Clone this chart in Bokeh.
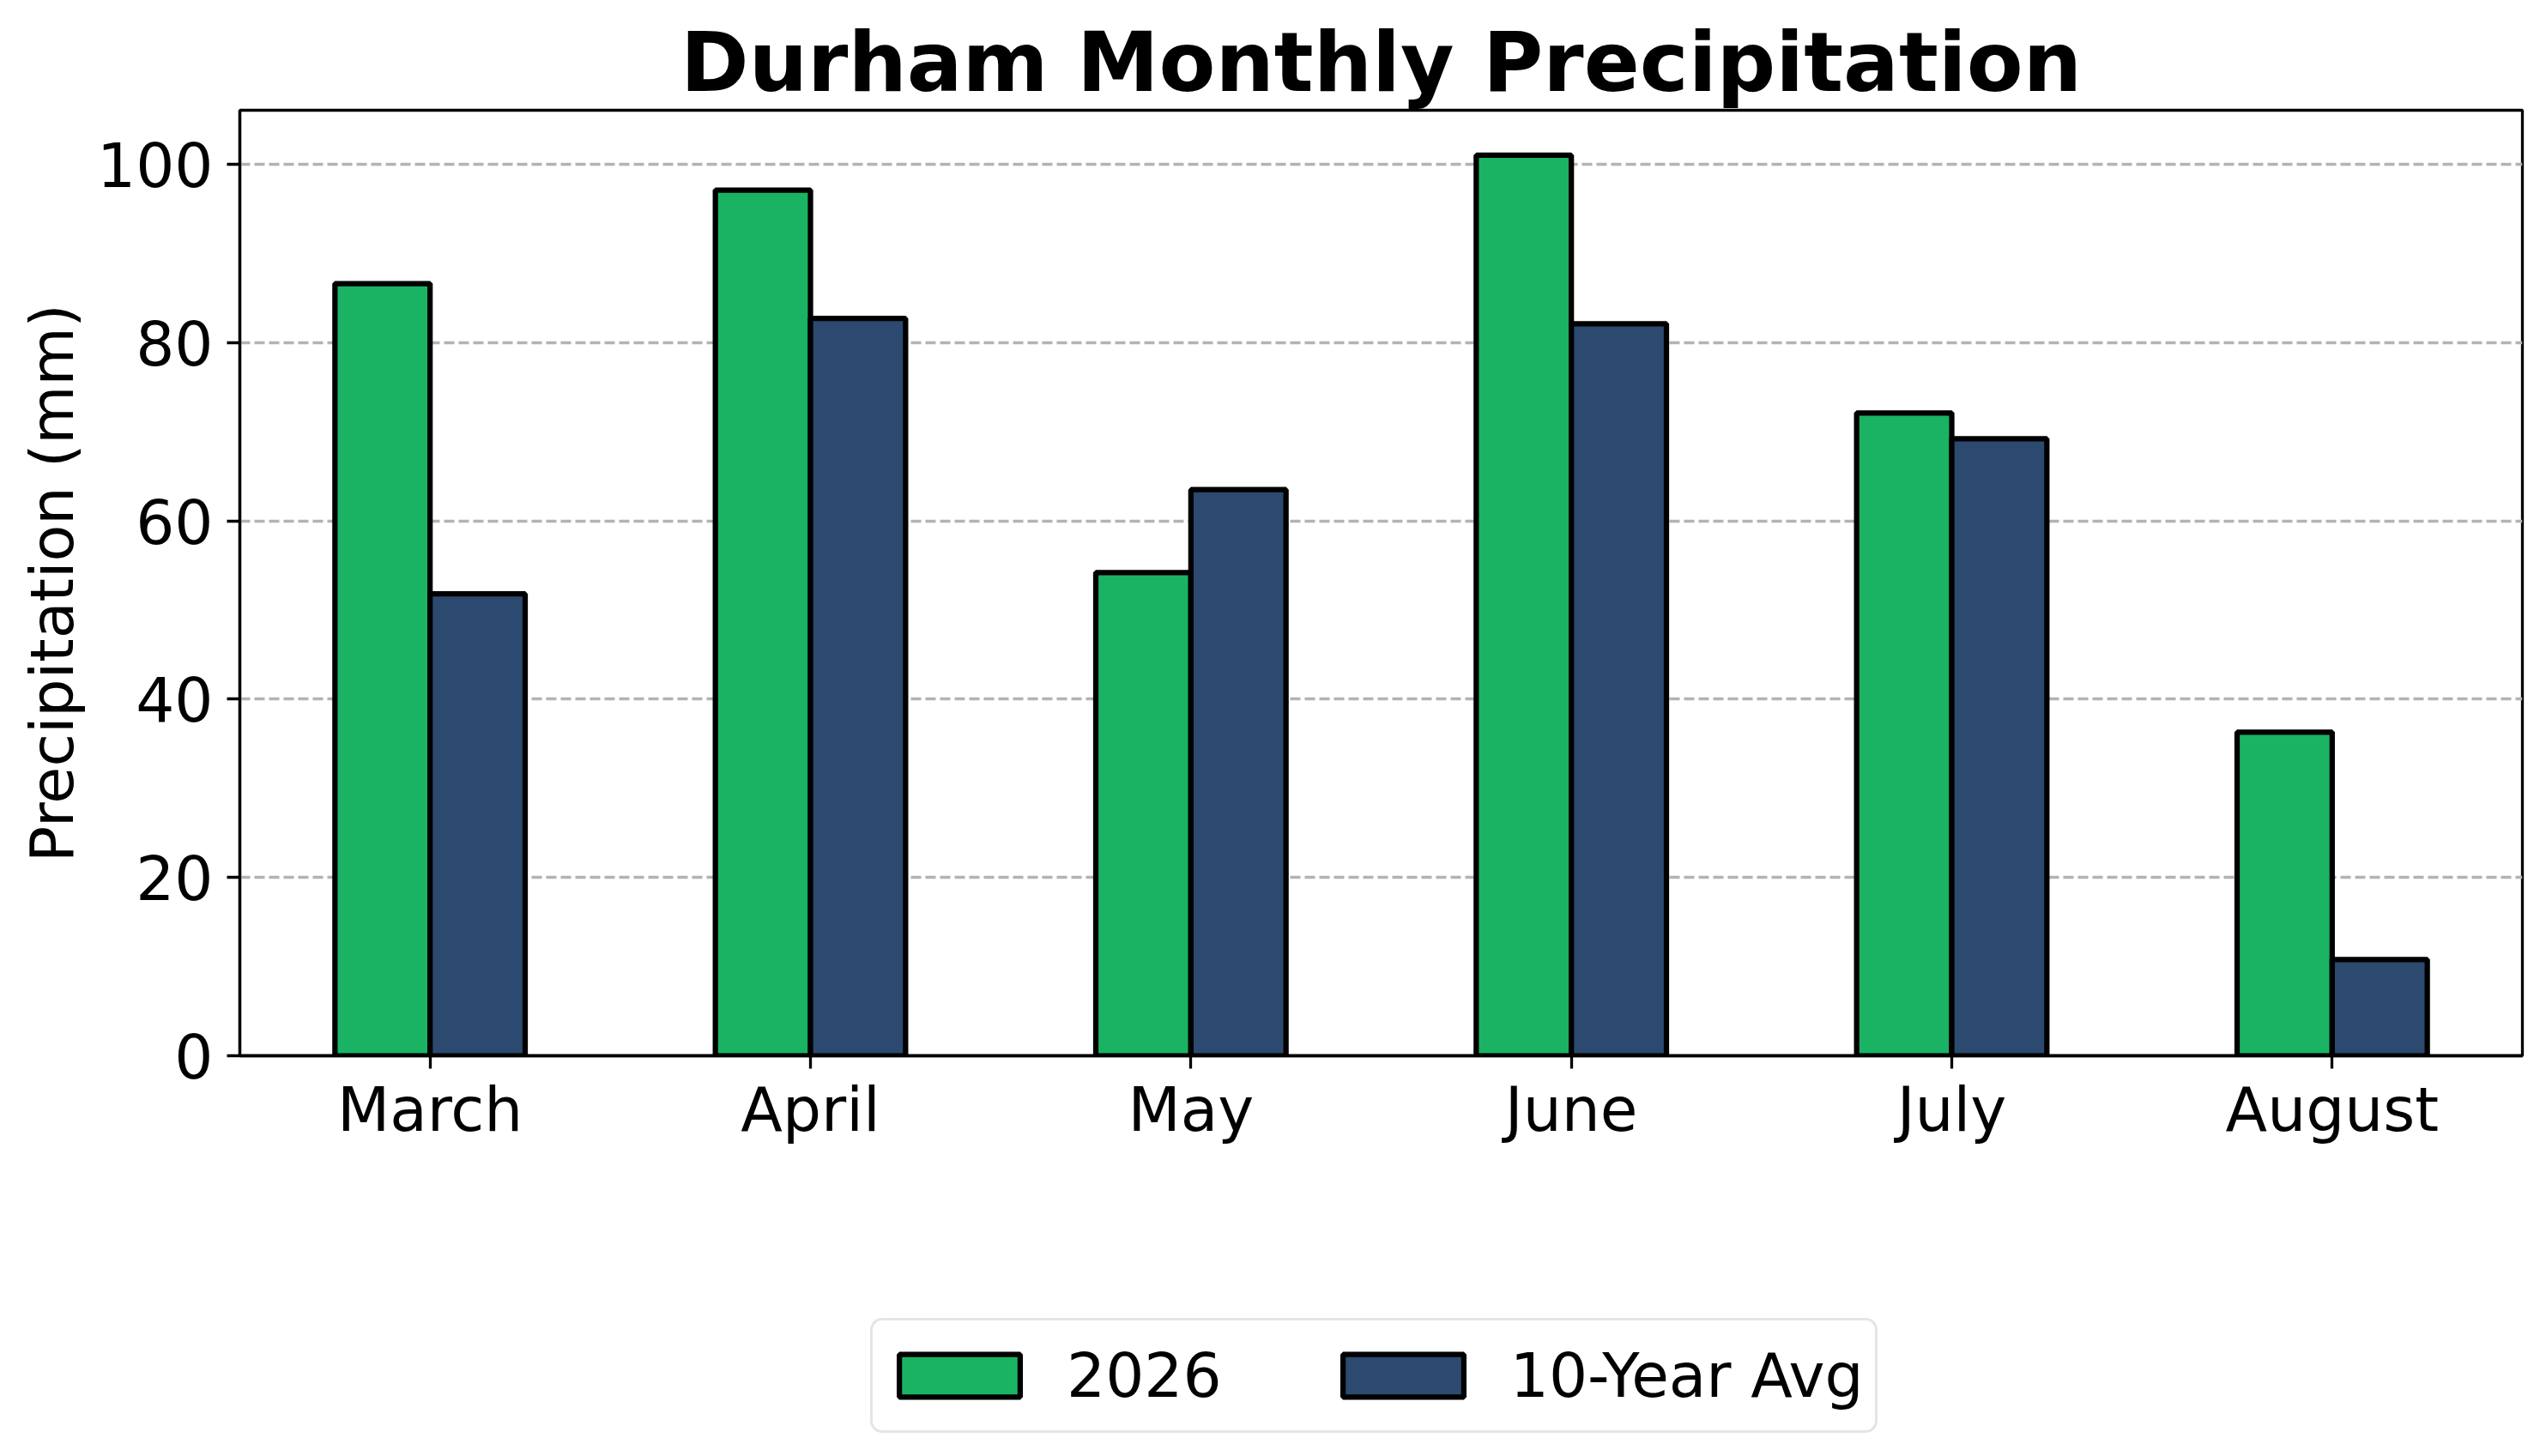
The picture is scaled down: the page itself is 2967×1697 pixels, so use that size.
from bokeh.plotting import figure
from bokeh.models import Range1d, FixedTicker, Legend, LegendItem
from bokeh.layouts import column
from bokeh.embed import file_html
from bokeh.resources import INLINE

months = ["March", "April", "May", "June", "July", "August"]
precip_2026 = [86.6, 97.1, 54.2, 101.0, 72.1, 36.3]
precip_avg10 = [51.8, 82.7, 63.5, 82.1, 69.2, 10.8]
series_labels = ["2026", "10-Year Avg"]
y_ticks = [0, 20, 40, 60, 80, 100]

GREEN = "#1AB364"
BLUE = "#2C4A6F"
FONT = "DejaVu Sans"
bar_w = 0.25

idx = list(range(len(months)))
x_green = [i - bar_w / 2 for i in idx]
x_blue = [i + bar_w / 2 for i in idx]
x_lim = (-0.5, len(months) - 0.5)
y_lim = (0, max(precip_2026 + precip_avg10) * 1.05)

p = figure(width=2951, height=1350, output_backend="svg", toolbar_location=None,
           x_range=Range1d(*x_lim), y_range=Range1d(*y_lim),
           min_border_left=279, min_border_right=12, min_border_top=128,
           min_border_bottom=120)

p.title.text = "Durham Monthly Precipitation"
p.title.text_font = FONT
p.title.text_font_size = "96px"
p.title.text_font_style = "bold"
p.title.align = "center"
p.title.standoff = 0
p.title.text_color = "black"

p.outline_line_color = "black"
p.outline_line_width = 3.3

p.xgrid.grid_line_color = None
p.ygrid.grid_line_color = "#b3b3b3"
p.ygrid.grid_line_width = 3.3
p.ygrid.grid_line_dash = "12 5"
p.ygrid.ticker = FixedTicker(ticks=y_ticks)

r1 = p.vbar(x=x_green, top=precip_2026, width=bar_w, bottom=0,
            fill_color=GREEN, line_color="black", line_width=6.25)
r2 = p.vbar(x=x_blue, top=precip_avg10, width=bar_w, bottom=0,
            fill_color=BLUE, line_color="black", line_width=6.25)

xa = p.xaxis[0]
xa.ticker = FixedTicker(ticks=idx)
xa.major_label_overrides = {i: m for i, m in zip(idx, months)}
xa.minor_tick_line_color = None
xa.major_tick_in = 0
xa.major_tick_out = 15
xa.major_tick_line_width = 3.3
xa.axis_line_width = 3.3
xa.major_label_text_font = FONT
xa.major_label_text_font_size = "71px"
xa.major_label_text_color = "black"
xa.major_label_standoff = 6

ya = p.yaxis[0]
ya.ticker = FixedTicker(ticks=y_ticks)
ya.minor_tick_line_color = None
ya.major_tick_in = 0
ya.major_tick_out = 15
ya.major_tick_line_width = 3.3
ya.axis_line_width = 3.3
ya.major_label_text_font = FONT
ya.major_label_text_font_size = "71px"
ya.major_label_text_color = "black"
ya.major_label_standoff = 16
ya.axis_label = "Precipitation (mm)"
ya.axis_label_text_font = FONT
ya.axis_label_text_font_size = "70px"
ya.axis_label_text_font_style = "normal"
ya.axis_label_text_color = "black"
ya.axis_label_standoff = 8

# Legend lives in a second, axis-less strip below the chart.
# Its legend renderers repeat the series styling but are hidden.
p2 = figure(width=2951, height=331, output_backend="svg", toolbar_location=None,
            x_range=Range1d(*x_lim), y_range=Range1d(*y_lim),
            x_axis_location=None, y_axis_location=None,
            min_border_left=0, min_border_right=0, min_border_top=0, min_border_bottom=0)
p2.outline_line_color = None
p2.xgrid.grid_line_color = None
p2.ygrid.grid_line_color = None
l1 = p2.vbar(x=x_green, top=precip_2026, width=bar_w, bottom=0,
             fill_color=GREEN, line_color="black", line_width=6.25, visible=False)
l2 = p2.vbar(x=x_blue, top=precip_avg10, width=bar_w, bottom=0,
             fill_color=BLUE, line_color="black", line_width=6.25, visible=False)

legend = Legend(items=[LegendItem(label=series_labels[0], renderers=[l1]),
                       LegendItem(label=series_labels[1], renderers=[l2])],
                orientation="horizontal", location=(735, 11))
legend.click_policy = "none"
legend.label_text_font = FONT
legend.label_text_font_size = "71px"
legend.label_text_color = "black"
legend.glyph_width = 176
legend.glyph_height = 62
legend.label_height = 102
legend.padding = 13
legend.spacing = 123
legend.label_standoff = 37
legend.margin = 0
legend.border_line_color = "#cccccc"
legend.border_line_width = 3.3
legend.background_fill_color = "white"
legend.background_fill_alpha = 1.0
if "border_radius" in Legend.properties():
    legend.border_radius = 14
p2.add_layout(legend, "center")

layout = column(p, p2, spacing=0)
open("out.html", "w").write(file_html(layout, INLINE))
